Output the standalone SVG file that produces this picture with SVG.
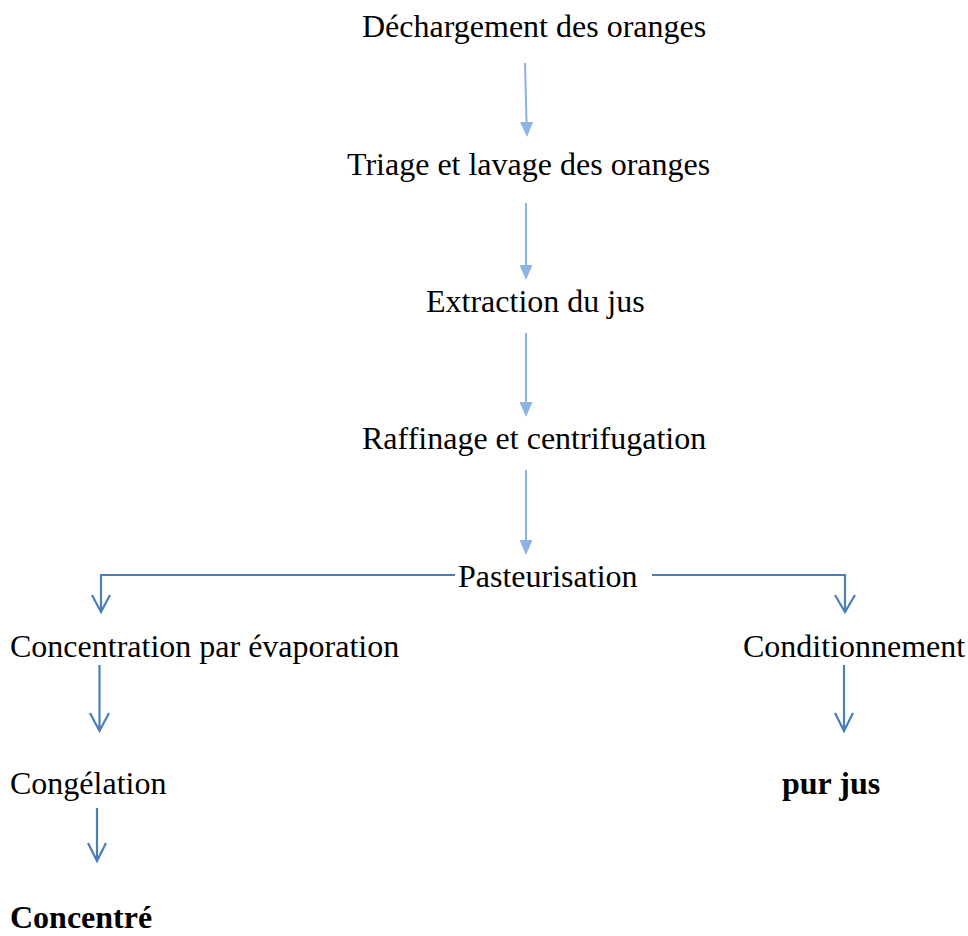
<svg xmlns="http://www.w3.org/2000/svg" width="968" height="936" viewBox="0 0 968 936">
<defs>
<style>
text{font-family:"Liberation Serif","Times New Roman",serif;font-size:32px;fill:#000}
.b{font-weight:bold}
.l{stroke:#8DB3E2;stroke-width:2;fill:none}
.d{stroke:#4A7EBB;stroke-width:2.2;fill:none}
.h{fill:#8DB3E2}
</style>
</defs>
<rect width="968" height="936" fill="#fff"/>
<g id="n1"><text x="362" y="37">Déchargement des oranges</text></g>
<g id="n2"><text x="347" y="175">Triage et lavage des oranges</text></g>
<g id="n3"><text x="426" y="312">Extraction du jus</text></g>
<g id="n4"><text x="362" y="449">Raffinage et centrifugation</text></g>
<g id="n5"><text x="458" y="587">Pasteurisation</text></g>
<g id="n6"><text x="10" y="657">Concentration par évaporation</text></g>
<g id="n7"><text x="743" y="657">Conditionnement</text></g>
<g id="n8"><text x="10" y="794">Congélation</text></g>
<g id="n9"><text x="782" y="794" class="b">pur jus</text></g>
<g id="n10"><text x="10" y="928" class="b">Concentré</text></g>
<g id="connectors">
<path class="l" d="M525,63 L526.5,122"/><path class="h" d="M520,122 L533,122 L527,137 Z"/>
<path class="l" d="M526,203 L526,265"/><path class="h" d="M519.5,265 L532.5,265 L526,280 Z"/>
<path class="l" d="M526,333 L526,402"/><path class="h" d="M519.5,402 L532.5,402 L526,417 Z"/>
<path class="l" d="M526,470 L526,540"/><path class="h" d="M519.5,540 L532.5,540 L526,555 Z"/>
<path class="d" d="M455,575 L101,575 L101,612 M92,595 L101,612 L110,595"/>
<path class="d" d="M652,575 L845,575 L845,612 M835,595 L845,612 L855,595"/>
<path class="d" d="M99.5,665 L99.5,731 M90,713 L99.5,731 L109,713"/>
<path class="d" d="M844,665 L844,731 M835,713 L844,731 L853,713"/>
<path class="d" d="M97,808 L97,861 M88,843 L97,861 L106,843"/>
</g>
</svg>
